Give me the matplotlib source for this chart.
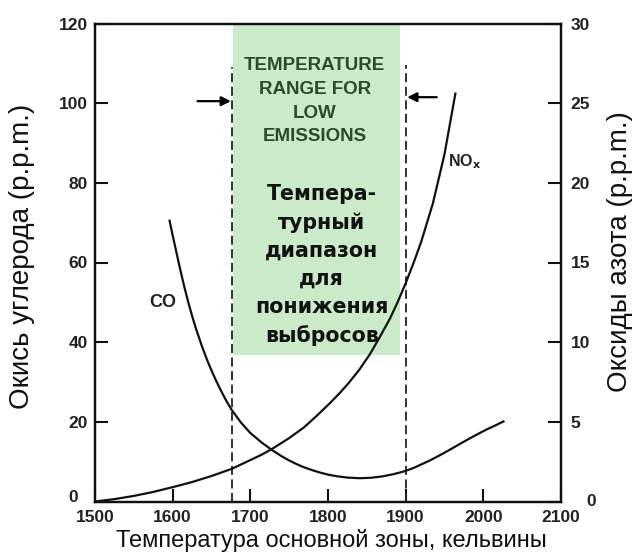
import matplotlib
matplotlib.use("Agg")
import matplotlib.pyplot as plt
from matplotlib.patches import Rectangle
from matplotlib.transforms import ScaledTranslation

plt.rcParams['font.family'] = ['Liberation Sans', 'DejaVu Sans']
plt.rcParams['mathtext.default'] = 'bf'

# ---- data ----
co_temp = [1596, 1600, 1605, 1610, 1615, 1620, 1625, 1630, 1638, 1645, 1650, 1656,
           1662, 1669, 1676, 1688, 1700, 1714, 1728, 1740, 1750, 1760, 1769, 1780,
           1790, 1800, 1811, 1825, 1841, 1855, 1870, 1884, 1897, 1910, 1920, 1930,
           1940, 1950, 1960, 1972, 1983, 1995, 2005, 2016, 2026]
co_ppm = [70.5, 66.8, 62.4, 58.0, 53.9, 50.1, 46.6, 43.4, 38.8, 35.2, 32.9, 30.3,
          27.9, 25.3, 23.0, 19.8, 17.2, 14.9, 12.9, 11.4, 10.3, 9.35, 8.6, 7.85,
          7.25, 6.75, 6.35, 6.0, 5.85, 5.95, 6.3, 6.85, 7.5, 8.4, 9.3, 10.2,
          11.2, 12.25, 13.35, 14.7, 15.9, 17.15, 18.15, 19.15, 20.1]

nox_temp = [1500, 1525, 1550, 1575, 1600, 1625, 1650, 1676, 1700, 1715, 1728, 1750,
            1769, 1786, 1803, 1815, 1826, 1840, 1854, 1867, 1880, 1890, 1900, 1910,
            1920, 1935, 1950, 1964]
nox_ppm = [0, 0.15, 0.35, 0.6, 0.9, 1.22, 1.6, 2.05, 2.6, 2.95, 3.3, 3.98,
           4.65, 5.4, 6.2, 6.8, 7.4, 8.25, 9.25, 10.35, 11.5, 12.55, 13.7, 14.95,
           16.3, 18.7, 21.8, 25.6]

x_ticks = [1500, 1600, 1700, 1800, 1900, 2000, 2100]
left_ticks = [0, 20, 40, 60, 80, 100, 120]
right_ticks = [0, 5, 10, 15, 20, 25, 30]

range_low, range_high = 1677, 1900
box_left, box_right, box_bottom = 1678, 1893, 36.7

label_en = "TEMPERATURE\nRANGE FOR\nLOW\nEMISSIONS"
label_ru = "Темпера-\nтурный\nдиапазон\nдля\nпонижения\nвыбросов"

# ---- figure ----
fig = plt.figure(figsize=(6.37, 5.54), dpi=100)
ax = fig.add_axes([95/637, 1 - 501.5/554, 466/637, 478/554])
ax2 = ax.twinx()

ax.set_xlim(1500, 2100)
ax.set_ylim(0, 120)
ax2.set_ylim(0, 30)

ax.add_patch(Rectangle((box_left, box_bottom), box_right - box_left, 120 - box_bottom,
                       facecolor='#cbeac9', edgecolor='none', zorder=0))

ax.plot([range_low, range_low], [0, 109], color='#222222', lw=1.3,
        dashes=(5, 2.5), zorder=2)
ax.plot([range_high, range_high], [0, 109.5], color='#222222', lw=1.3,
        dashes=(5, 2.5), zorder=2)

ax.annotate('', xy=(range_low - 2, 100.5), xytext=(1632, 100.5),
            arrowprops=dict(arrowstyle='-|>', color='black', lw=1.6,
                            mutation_scale=14, shrinkA=0, shrinkB=0))
ax.annotate('', xy=(range_high + 2, 101.5), xytext=(1940, 101.5),
            arrowprops=dict(arrowstyle='-|>', color='black', lw=1.6,
                            mutation_scale=14, shrinkA=0, shrinkB=0))

ax.plot(co_temp, co_ppm, color='#111111', lw=1.6, zorder=3)
ax2.plot(nox_temp, nox_ppm, color='#111111', lw=1.6, zorder=3)

ax.text(1783, 100.5, label_en, ha='center', va='center', multialignment='center',
        fontsize=13.5, fontweight='bold', color='#2c4a2c', linespacing=1.52, zorder=4)
ax.text(1792, 59.3, label_ru, ha='center', va='center', multialignment='center',
        fontsize=14.8, fontweight='bold', color='#111111', linespacing=1.5, zorder=4,
        family='DejaVu Sans')

ax.text(1587.6, 50, 'CO', ha='center', va='center', fontsize=13,
        fontweight='bold', color='#222222')
ax.text(1976, 85.2, r'NO$_x$', ha='center', va='center', fontsize=11.5,
        fontweight='bold', color='#222222')

ax.set_xticks(x_ticks)
ax.set_yticks(left_ticks)
ax2.set_yticks(right_ticks)

for a in (ax, ax2):
    for s in a.spines.values():
        s.set_linewidth(1.6)
        s.set_color('#111111')

ax.tick_params(axis='both', direction='in', length=9.5, width=1.5, color='#111111',
               labelsize=12.5, labelcolor='#222222')
ax.tick_params(axis='y', pad=5)
ax.tick_params(axis='x', pad=6)
ax2.tick_params(axis='y', direction='in', length=9.5, width=1.5, color='#111111',
                labelsize=12.5, labelcolor='#222222', pad=7)
for lab in ax.get_xticklabels() + ax.get_yticklabels() + ax2.get_yticklabels():
    lab.set_fontweight('bold')

# shift the two "0" labels as in the reference
lab0 = ax.get_yticklabels()[0]
lab0.set_transform(lab0.get_transform() + ScaledTranslation(-10/100, 6/100, fig.dpi_scale_trans))
rlab0 = ax2.get_yticklabels()[0]
rlab0.set_transform(rlab0.get_transform() + ScaledTranslation(16/100, 1/100, fig.dpi_scale_trans))

fig.text(22/637, 1 - 256/554, 'Окись углерода (p.p.m.)', rotation=90,
         ha='center', va='center', fontsize=20, color='#111111')
fig.text(620/637, 1 - 252/554, 'Оксиды азота (p.p.m.)', rotation=90,
         ha='center', va='center', fontsize=20, color='#111111')
fig.text(331/637, 1 - 540/554, 'Температура основной зоны, кельвины',
         ha='center', va='center', fontsize=17, color='#111111')

fig.savefig('out.png', dpi=100)
